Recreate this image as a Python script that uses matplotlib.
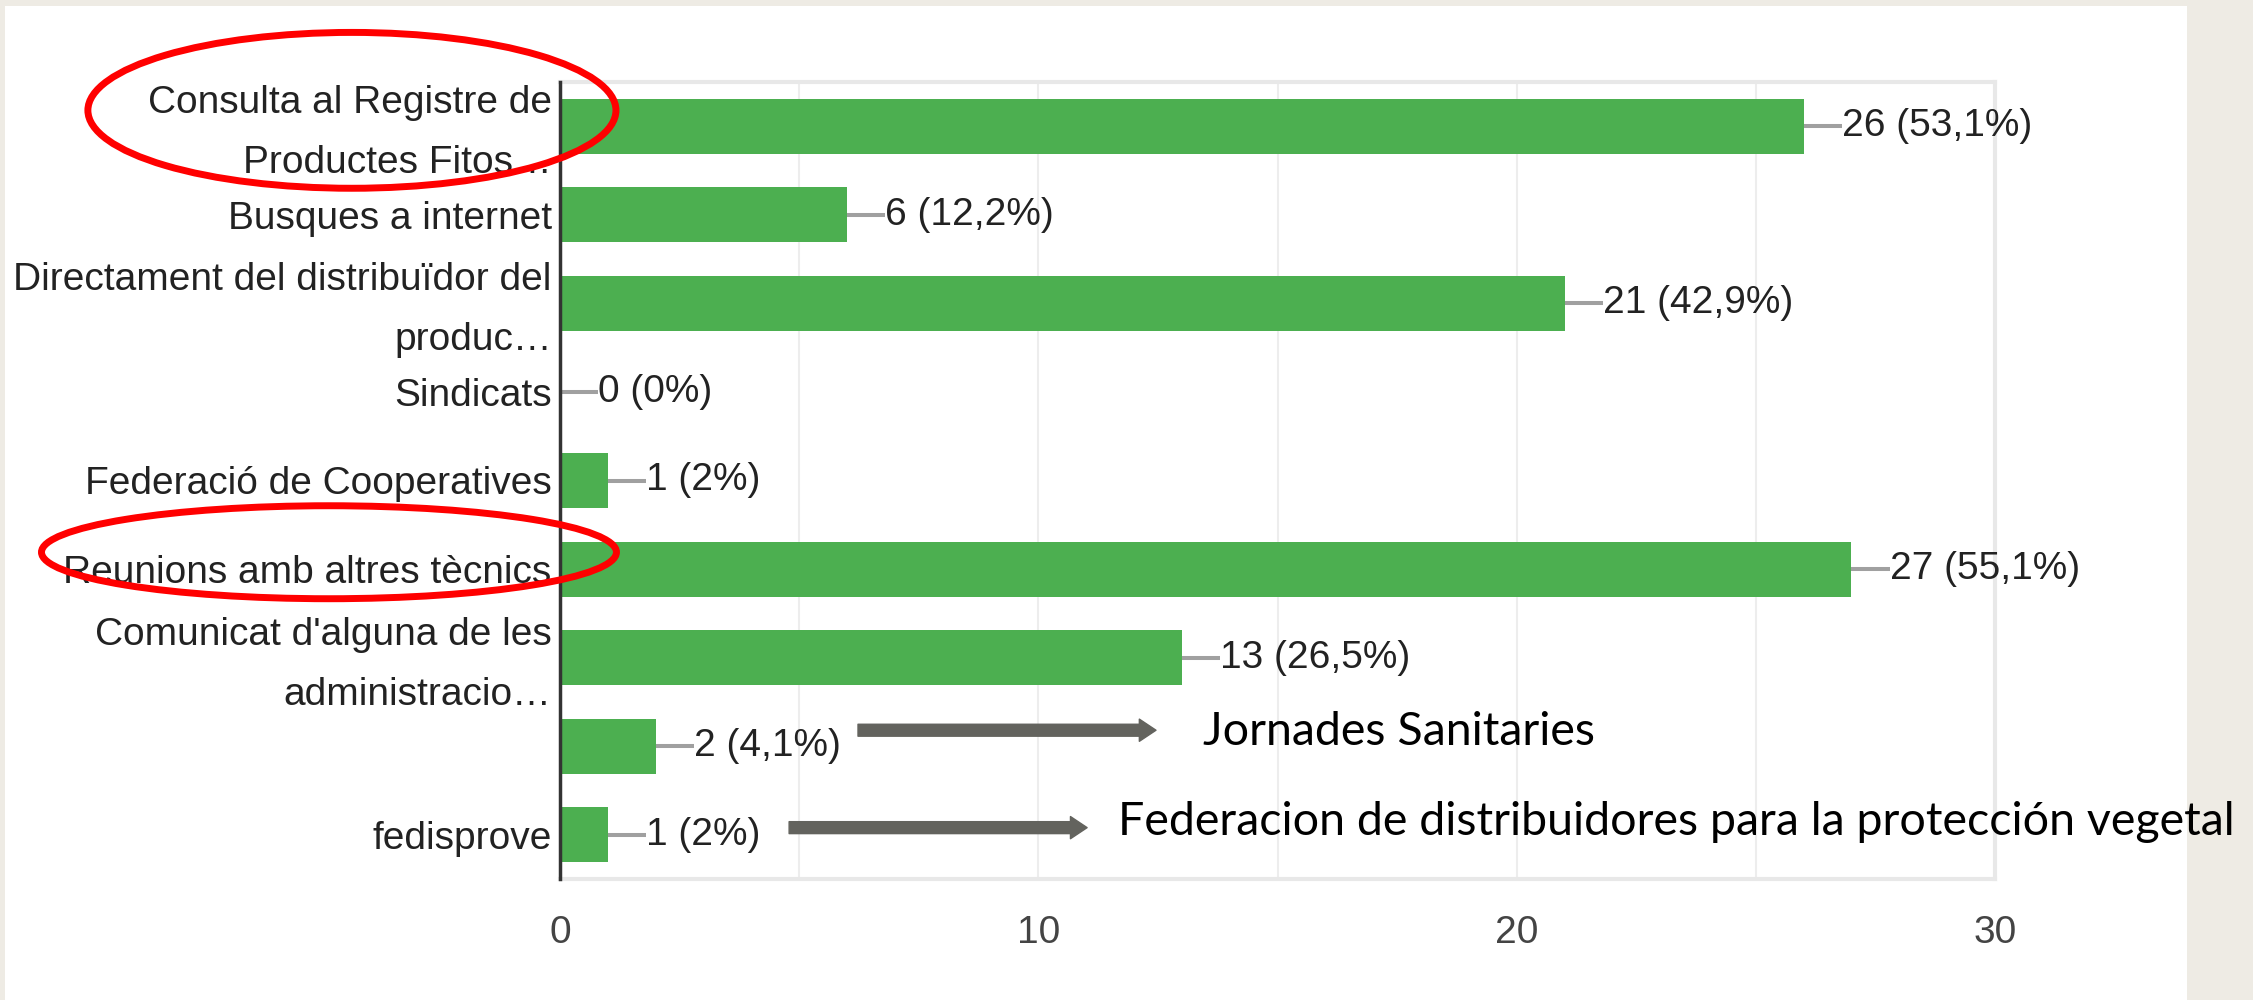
import matplotlib
matplotlib.use('Agg')
import matplotlib.pyplot as plt
from matplotlib import font_manager
from matplotlib.patches import Ellipse, Rectangle
from matplotlib.transforms import ScaledTranslation
import numpy as np

categories = [
    'Consulta al Registre de\nProductes Fitos…',
    'Busques a internet',
    'Directament del distribuïdor del\nproduc…',
    'Sindicats',
    'Federació de Cooperatives',
    'Reunions amb altres tècnics',
    "Comunicat d'alguna de les\nadministracio…",
    '',
    'fedisprove',
]
counts = [26, 6, 21, 0, 1, 27, 13, 2, 1]
percents = ['53,1%', '12,2%', '42,9%', '0%', '2%', '55,1%', '26,5%', '4,1%', '2%']
x_ticks = [0, 10, 20, 30]
x_grid = [0, 5, 10, 15, 20, 25, 30]
notes = ['Jornades Sanitaries', 'Federacion de distribuidores para la protección vegetal']

BAR_GREEN = '#4caf50'
LEADER_GREY = '#a0a0a0'
ARROW_GREY = '#63635e'
TEXT_DARK = '#222222'


def pick_font(candidates):
    names = {f.name for f in font_manager.fontManager.ttflist}
    for name in candidates:
        if name in names:
            return name
    return 'DejaVu Sans'


label_font = pick_font(['Liberation Sans Narrow', 'Arial Narrow', 'Liberation Sans'])
narrow = 'Narrow' in label_font
label_size = 32 if narrow else 28
note_font = pick_font(['Lato', 'Open Sans', 'Noto Sans'])

fig = plt.figure(figsize=(22.53, 10), dpi=100, facecolor='#eeebe4')
fig.patches.append(Rectangle((5 / 2253, 0), 2182 / 2253, 994 / 1000, transform=fig.transFigure,
                             facecolor='white', edgecolor='none', zorder=-10))

ax = fig.add_axes([560 / 2253, 1 - 879 / 1000, 1435 / 2253, 797 / 1000])
ax.set_facecolor('none')

y = np.arange(len(categories))
ax.barh(y, counts, height=0.62, color=BAR_GREEN, zorder=3)

# leader line + value label
lead = 0.8
for yi, c, p in zip(y, counts, percents):
    ax.plot([c, c + lead], [yi, yi], color=LEADER_GREY, lw=2.9, solid_capstyle='butt', zorder=3)
    ax.text(c + lead, yi, f'{c} ({p})', ha='left', va='center', fontsize=label_size,
            family=label_font, color=TEXT_DARK, zorder=4)

ax.set_xlim(0, 30)
ax.set_ylim(len(categories) - 0.5, -0.5)
ax.set_xticks(x_ticks)
ax.set_xticks(x_grid, minor=True)
ax.set_xticklabels([str(t) for t in x_ticks], fontsize=label_size, family=label_font, color='#444444')

# single-line labels as tick labels, wrapped ones as text centred on the bar
ax.set_yticks(y)
ax.set_yticklabels([c if '\n' not in c else '' for c in categories],
                   fontsize=label_size, family=label_font, color=TEXT_DARK)
wrap_tr = ax.get_yaxis_transform() + ScaledTranslation(-6 / 72, -0.07, fig.dpi_scale_trans)
for yi, c in zip(y, categories):
    if '\n' in c:
        ax.text(0, yi, c, transform=wrap_tr, ha='right', va='center', fontsize=label_size,
                family=label_font, color=TEXT_DARK, linespacing=1.85, clip_on=False)

ax.tick_params(axis='x', which='both', length=0, pad=26)
ax.tick_params(axis='y', length=0, pad=6)
ax.grid(axis='x', which='both', color='#ededed', lw=1.5, zorder=0)

for side in ['top', 'right', 'bottom']:
    ax.spines[side].set_color('#e8e8e8')
    ax.spines[side].set_linewidth(3)
ax.spines['left'].set_color('#333333')
ax.spines['left'].set_linewidth(2.5)
ax.spines['left'].set_zorder(5)

# hand-drawn style annotations
arrow_style = 'simple,head_length=0.6,head_width=0.8,tail_width=0.43'
ax.annotate('', xy=(12.46, 6.82), xytext=(6.23, 6.82),
            arrowprops=dict(arrowstyle=arrow_style, mutation_scale=20, color=ARROW_GREY,
                            shrinkA=0, shrinkB=0), zorder=6)
ax.annotate('', xy=(11.02, 7.92), xytext=(4.79, 7.92),
            arrowprops=dict(arrowstyle=arrow_style, mutation_scale=20, color=ARROW_GREY,
                            shrinkA=0, shrinkB=0), zorder=6)
ax.text(13.44, 6.99, notes[0], ha='left', va='baseline', fontsize=33.5, family=note_font,
        color='black', zorder=6)
ax.text(11.67, 8.0, notes[1], ha='left', va='baseline', fontsize=33.5, family=note_font,
        color='black', zorder=6, clip_on=False)

ax.add_patch(Ellipse((-4.35, -0.18), 11.04, 1.76, fill=False, edgecolor='#ff0000', lw=5,
                     clip_on=False, zorder=7))
ax.add_patch(Ellipse((-4.83, 4.81), 12.02, 1.05, fill=False, edgecolor='#ff0000', lw=5,
                     clip_on=False, zorder=7))

fig.savefig('out.png', dpi=100, facecolor=fig.get_facecolor())
